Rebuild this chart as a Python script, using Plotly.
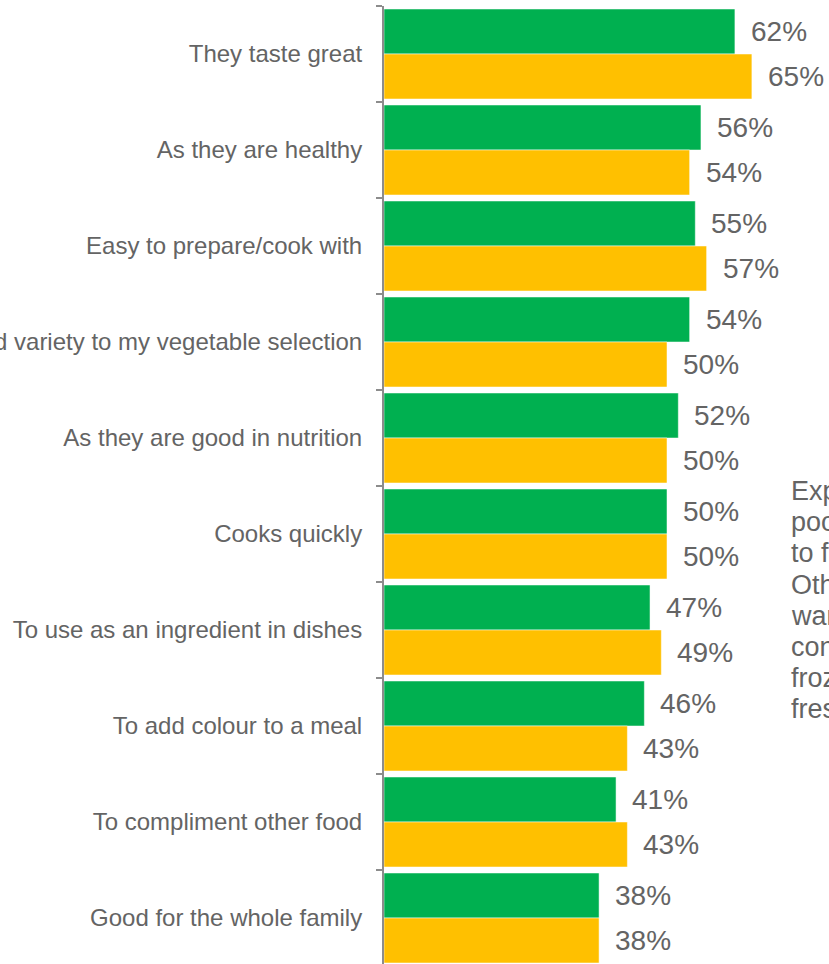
import plotly.graph_objects as go

# Reasons for buying, share of respondents (%)
categories = [
    "They taste great",
    "As they are healthy",
    "Easy to prepare/cook with",
    "Add variety to my vegetable selection",
    "As they are good in nutrition",
    "Cooks quickly",
    "To use as an ingredient in dishes",
    "To add colour to a meal",
    "To compliment other food",
    "Good for the whole family",
]
green_values = [62, 56, 55, 54, 52, 50, 47, 46, 41, 38]
yellow_values = [65, 54, 57, 50, 50, 50, 49, 43, 43, 38]

side_note = [
    "Expect frozen",
    "poor quality",
    "to fresh.",
    "Others",
    "want",
    "convenience of",
    "frozen over",
    "fresh",
]

GREEN = "#00B050"
YELLOW = "#FFC000"
TEXT = "#646464"
AXIS = "#8C8C8C"
FONT = "Liberation Sans, Arial, sans-serif"

W, H = 829, 964
M_L, M_T = 384, 6
PX_PER_PCT = 5.66
CAT_PX = 96

fig = go.Figure()
for vals, col in ((green_values, GREEN), (yellow_values, YELLOW)):
    fig.add_trace(go.Bar(
        y=categories, x=vals, orientation="h",
        marker=dict(color=col, line=dict(color="white", width=0.5)),
        hoverinfo="skip", showlegend=False,
    ))

# value labels to the right of each bar
annotations = []
for vals, shift in ((green_values, 22.5), (yellow_values, -22.5)):
    for cat, v in zip(categories, vals):
        annotations.append(dict(
            x=v, y=cat, xref="x", yref="y", text=f"{v}%",
            showarrow=False, xanchor="left", yanchor="middle",
            xshift=14, yshift=shift,
            font=dict(family=FONT, size=28, color=TEXT),
        ))

# side commentary, one line at a time (tight line spacing)
plot_h = H - M_T
plot_w = W - M_L
note_x, line_y0, line_step = 789, 491, 31.2
for i, line in enumerate(side_note):
    py = line_y0 + i * line_step
    annotations.append(dict(
        x=(note_x - M_L) / plot_w, y=1 - (py - M_T) / plot_h,
        xref="paper", yref="paper",
        text=line, showarrow=False, xanchor="left", yanchor="middle",
        font=dict(family=FONT, size=27, color=TEXT),
    ))

y_bottom = -0.5 + plot_h / CAT_PX

fig.update_layout(
    template="none",
    width=W, height=H,
    margin=dict(l=M_L, r=0, t=M_T, b=0, pad=0),
    paper_bgcolor="white", plot_bgcolor="white",
    barmode="group", bargap=0.0625, bargroupgap=0,
    font=dict(family=FONT, color=TEXT),
    xaxis=dict(range=[0, plot_w / PX_PER_PCT], visible=False,
               showgrid=False, zeroline=False, automargin=False),
    yaxis=dict(
        type="category", range=[y_bottom, -0.5],
        showline=True, linecolor=AXIS, linewidth=2,
        ticks="outside", tickson="boundaries", ticklen=6,
        tickcolor=AXIS, tickwidth=2,
        ticklabelstandoff=15,
        tickfont=dict(family=FONT, size=24, color=TEXT),
        showgrid=False, zeroline=False, automargin=False,
    ),
    annotations=annotations,
)

fig.write_html("out.html")
